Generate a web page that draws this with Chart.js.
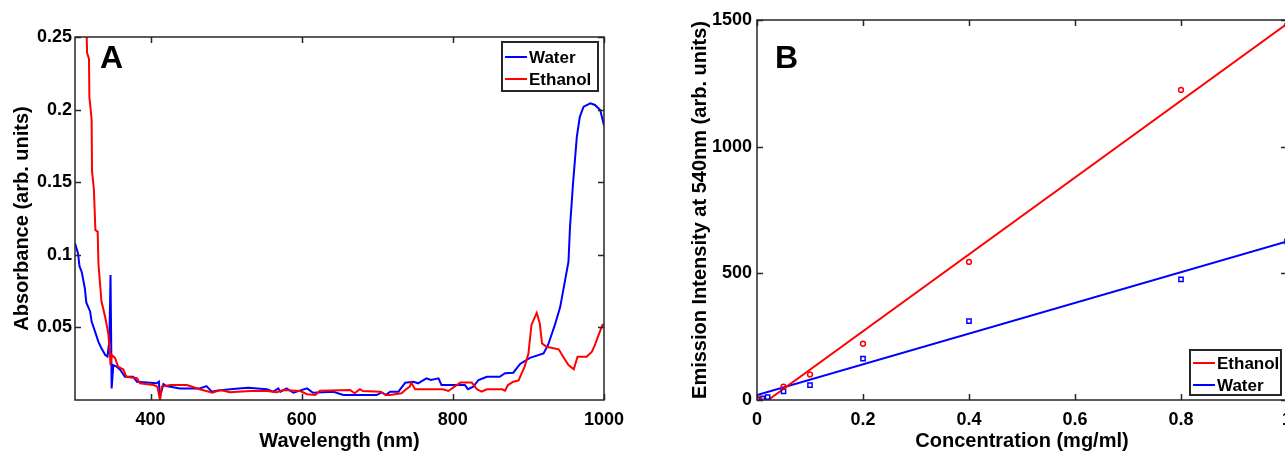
<!DOCTYPE html>
<html><head><meta charset="utf-8">
<script src="https://cdn.jsdelivr.net/npm/chart.js@4"></script>
<style>
html,body{margin:0;padding:0;overflow:hidden;background:#fff;width:1285px;height:456px;}
#ca{position:absolute;left:0;top:0;}
#cb{position:absolute;left:640px;top:0;}
</style></head><body>
<canvas id="ca" width="640" height="456"></canvas>
<canvas id="cb" width="700" height="456"></canvas>
<script>
// ---------- Panel A data ----------
const waterWl = [300,304,306,309,313,315,320,322,326,331,335,340,343,345.5,347,348.5,350.7,355,360,366,377,382,395,408,411,412.5,417,421,439,465,474,481,487,509,529,554,562,569,572,580,589,607,615,642,655,699,706,711,717,728,737,748,754,765,771,781,785,816,820,827,834,845,862,869,880,889,902,920,926,935,942,953,955,959,964,968,973,982,988,995,1000];
const waterAbs = [0.108,0.101,0.092,0.088,0.077,0.067,0.061,0.054,0.048,0.040,0.0356,0.031,0.030,0.041,0.086,0.008,0.024,0.023,0.0207,0.016,0.016,0.0126,0.012,0.0115,0.0126,0.0023,0.011,0.0096,0.008,0.008,0.0096,0.0057,0.0064,0.0076,0.0085,0.0074,0.0057,0.008,0.0057,0.008,0.005,0.008,0.005,0.0057,0.0034,0.0034,0.0053,0.0034,0.0057,0.0057,0.0119,0.0126,0.0115,0.0149,0.0138,0.0149,0.0103,0.0103,0.0074,0.0092,0.0138,0.016,0.016,0.0184,0.0188,0.0248,0.029,0.032,0.0379,0.0517,0.064,0.0953,0.119,0.149,0.181,0.195,0.202,0.2043,0.2032,0.1997,0.189];
const ethanolWl = [310,315.5,316,318.5,319,322,322.5,325,327,330,331,333,335,340,344,346,347,348.5,353,357,364,368,382,386,404,409,412.5,415,426,448,465,482,492,505,532,554,567,576,598,607,618,624,664,670,677,681,704,712,717,732,737,743,745,750,787,794,810,825,832,838,845,865,869,873,880,887,891,895,900,904,911,915,918,924,940,946,953,960,965,977,984,988,992,998,1000];
const ethanolAbs = [0.27,0.25,0.239,0.235,0.209,0.193,0.158,0.145,0.117,0.116,0.094,0.081,0.068,0.057,0.046,0.034,0.024,0.031,0.029,0.023,0.021,0.016,0.015,0.0115,0.0103,0.0092,0.0,0.0092,0.0103,0.0103,0.0074,0.005,0.0069,0.0053,0.0062,0.0062,0.0053,0.0069,0.0062,0.004,0.0034,0.0064,0.0069,0.0046,0.0074,0.0062,0.0057,0.0034,0.0034,0.0046,0.0069,0.0092,0.012,0.0074,0.0074,0.0062,0.012,0.012,0.0074,0.0057,0.0074,0.0074,0.0064,0.0103,0.0126,0.0135,0.0184,0.023,0.032,0.0517,0.060,0.0528,0.039,0.0367,0.0349,0.0298,0.0241,0.0211,0.0298,0.0298,0.0333,0.0379,0.0436,0.0517,0.052];
const aXTicks = [400,600,800,1000];
const aXLabels = ['400','600','800','1000'];
const aYTicks = [0.05,0.1,0.15,0.2,0.25];
const aYLabels = ['0.05','0.1','0.15','0.2','0.25'];

// ---------- Panel B data ----------
const concEthanol = [0.005,0.05,0.1,0.2,0.4,0.8,1.0];
const emisEthanol = [2,53,101,222,545,1224,1480];
const concWater = [0.001,0.01,0.02,0.05,0.1,0.2,0.4,0.8,1.0];
const emisWater = [2,6,11,34,59,163,311,476,626];
const fitEthanolX = [0.021,1.0];
const fitEthanolY = [0,1485];
const fitWaterX = [0,1.0];
const fitWaterY = [20,626];
const bXTicks = [0,0.2,0.4,0.6,0.8,1];
const bXLabels = ['0','0.2','0.4','0.6','0.8','1'];
const bYTicks = [0,500,1000,1500];
const bYLabels = ['0','500','1000','1500'];

const FONT = '"Liberation Sans", Arial, Helvetica, sans-serif';
const zip = (xs, ys) => xs.map((x, i) => ({x, y: ys[i]}));

const framePlugin = {
  id: 'frame',
  afterDatasetsDraw(chart, args, opts) {
    const {ctx, chartArea: a, scales} = chart;
    ctx.save();
    ctx.strokeStyle = '#262626';
    ctx.lineWidth = 1.5;
    ctx.strokeRect(a.left, a.top, a.right - a.left, a.bottom - a.top);
    const L = 6;
    ctx.beginPath();
    scales.x.ticks.forEach(t => {
      const p = Math.round(scales.x.getPixelForValue(t.value)) + 0.5;
      ctx.moveTo(p, a.bottom); ctx.lineTo(p, a.bottom - L);
      ctx.moveTo(p, a.top); ctx.lineTo(p, a.top + L);
    });
    scales.y.ticks.forEach(t => {
      const p = Math.round(scales.y.getPixelForValue(t.value)) + 0.5;
      ctx.moveTo(a.left, p); ctx.lineTo(a.left + L, p);
      ctx.moveTo(a.right, p); ctx.lineTo(a.right - L, p);
    });
    ctx.stroke();
    // panel letter
    ctx.fillStyle = '#000';
    ctx.font = 'bold 32px ' + FONT;
    ctx.textBaseline = 'alphabetic';
    ctx.textAlign = 'left';
    ctx.fillText(opts.letter, a.left + opts.lx, a.top + opts.ly);
    // legend
    const lg = opts.legend;
    const bx = a.right - lg.dx, by = a.top + lg.dy;
    ctx.fillStyle = '#fff';
    ctx.fillRect(bx, by, lg.w, lg.h);
    ctx.lineWidth = 2;
    ctx.strokeStyle = '#262626';
    ctx.strokeRect(bx, by, lg.w, lg.h);
    ctx.font = 'bold 17px ' + FONT;
    ctx.textBaseline = 'middle';
    lg.items.forEach((it, i) => {
      const yy = by + lg.row0 + i * lg.rowH;
      ctx.strokeStyle = it.color;
      ctx.lineWidth = 2;
      ctx.beginPath();
      ctx.moveTo(bx + 3, yy); ctx.lineTo(bx + 25, yy);
      ctx.stroke();
      ctx.fillStyle = '#000';
      ctx.fillText(it.text, bx + 27, yy + 1);
    });
    ctx.restore();
  }
};

function axis(min, max, ticks, labels, title, isY, fit, pad, titlePad) {
  return {
    type: 'linear', min, max,
    afterBuildTicks: s => { s.ticks = ticks.map(v => ({value: v})); },
    afterFit: s => { if (isY) s.width = fit; else s.height = fit; },
    grid: {display: false, drawTicks: false},
    border: {display: false},
    ticks: {autoSkip: false, maxRotation: 0, padding: pad, color: '#000',
      callback: (v, i) => labels[i],
      font: {family: FONT, size: 18, weight: 'bold'}},
    title: {display: true, text: title, color: '#000', padding: titlePad,
      font: {family: FONT, size: 20, weight: 'bold'}}
  };
}

new Chart(document.getElementById('ca'), {
  type: 'line',
  data: {
    datasets: [
      {label: 'Water', data: zip(waterWl, waterAbs), borderColor: '#0000ff', borderWidth: 2, pointRadius: 0, tension: 0, order: 2},
      {label: 'Ethanol', data: zip(ethanolWl, ethanolAbs), borderColor: '#ff0000', borderWidth: 2, pointRadius: 0, tension: 0, order: 1}
    ]
  },
  options: {
    responsive: false, animation: false, parsing: false,
    layout: {padding: {top: 37, right: 36, left: 0, bottom: 0}},
    plugins: {
      legend: {display: false}, tooltip: {enabled: false},
      frame: {letter: 'A', lx: 25, ly: 31,
        legend: {dx: 102, dy: 5, w: 96, h: 49, row0: 15, rowH: 22,
          items: [{text: 'Water', color: '#0000ff'}, {text: 'Ethanol', color: '#ff0000'}]}}
    },
    scales: {
      x: axis(300, 1000, aXTicks, aXLabels, 'Wavelength (nm)', false, 56, 9, {top: 0, bottom: 3}),
      y: axis(0, 0.25, aYTicks, aYLabels, 'Absorbance (arb. units)', true, 75, 3, {top: 10, bottom: 0})
    }
  },
  plugins: [framePlugin]
});

new Chart(document.getElementById('cb'), {
  type: 'scatter',
  data: {
    datasets: [
      {label: 'Ethanol', data: zip(concEthanol, emisEthanol), showLine: false, pointStyle: 'circle', pointRadius: 2.4, borderColor: '#ff0000', backgroundColor: 'rgba(0,0,0,0)', pointBorderWidth: 1.5},
      {label: 'Water', data: zip(concWater, emisWater), showLine: false, pointStyle: 'rect', pointRadius: 3, borderColor: '#0000ff', backgroundColor: 'rgba(0,0,0,0)', pointBorderWidth: 1.5},
      {label: 'Ethanol fit', data: zip(fitEthanolX, fitEthanolY), showLine: true, pointRadius: 0, borderColor: '#ff0000', borderWidth: 2},
      {label: 'Water fit', data: zip(fitWaterX, fitWaterY), showLine: true, pointRadius: 0, borderColor: '#0000ff', borderWidth: 2}
    ]
  },
  options: {
    responsive: false, animation: false, parsing: false,
    layout: {padding: {top: 20, right: 53, left: 0, bottom: 0}},
    plugins: {
      legend: {display: false}, tooltip: {enabled: false},
      frame: {letter: 'B', lx: 18, ly: 48,
        legend: {dx: 97, dy: 330, w: 91, h: 45, row0: 13, rowH: 22,
          items: [{text: 'Ethanol', color: '#ff0000'}, {text: 'Water', color: '#0000ff'}]}}
    },
    scales: {
      x: axis(0, 1, bXTicks, bXLabels, 'Concentration (mg/ml)', false, 56, 9, {top: 0, bottom: 3}),
      y: axis(0, 1500, bYTicks, bYLabels, 'Emission Intensity at 540nm (arb. units)', true, 117, 5, {top: 48, bottom: 0})
    }
  },
  plugins: [framePlugin]
});
</script>
</body></html>
